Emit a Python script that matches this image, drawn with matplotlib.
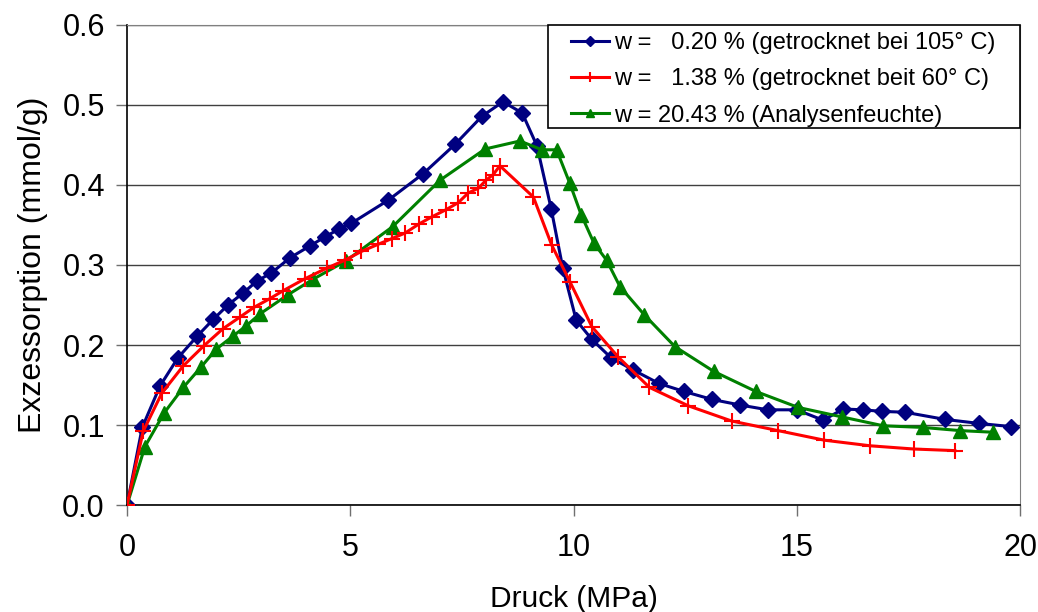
import matplotlib
matplotlib.use("Agg")
import matplotlib.pyplot as plt
from matplotlib.patches import Rectangle

plt.rcParams["font.family"] = ["Liberation Sans", "DejaVu Sans"]

# w = 0.20 % (dried at 105 C)
p_dry105 = [0, 0.34, 0.74, 1.14, 1.57, 1.93, 2.26, 2.6, 2.91, 3.23, 3.65, 4.1, 4.43,
            4.75, 5.02, 5.85, 6.63, 7.35, 7.95, 8.42, 8.85, 9.18, 9.5, 9.76, 10.06,
            10.41, 10.84, 11.33, 11.91, 12.47, 13.1, 13.73, 14.35, 15.0, 15.59,
            16.04, 16.48, 16.91, 17.42, 18.32, 19.08, 19.8]
ex_dry105 = [0, 0.097, 0.149, 0.184, 0.211, 0.232, 0.25, 0.265, 0.28, 0.29, 0.309,
             0.324, 0.335, 0.345, 0.352, 0.381, 0.414, 0.451, 0.486, 0.504, 0.49,
             0.449, 0.37, 0.296, 0.231, 0.207, 0.184, 0.169, 0.152, 0.142, 0.132,
             0.125, 0.119, 0.119, 0.106, 0.12, 0.119, 0.117, 0.116, 0.107, 0.102,
             0.098]

# w = 1.38 % (dried at 60 C)
p_dry60 = [0, 0.36, 0.78, 1.26, 1.72, 2.14, 2.53, 2.84, 3.2, 3.5, 3.99, 4.47, 4.88,
           5.25, 5.63, 5.93, 6.23, 6.53, 6.82, 7.14, 7.42, 7.64, 7.87, 8.04, 8.2,
           8.35, 9.1, 9.51, 9.92, 10.41, 11.0, 11.7, 12.57, 13.54, 14.58, 15.62,
           16.65, 17.62, 18.54]
ex_dry60 = [0, 0.092, 0.14, 0.174, 0.199, 0.22, 0.235, 0.247, 0.258, 0.268, 0.283,
            0.296, 0.306, 0.317, 0.326, 0.333, 0.34, 0.351, 0.36, 0.369, 0.378,
            0.39, 0.396, 0.406, 0.413, 0.424, 0.385, 0.325, 0.279, 0.223, 0.185,
            0.147, 0.124, 0.105, 0.093, 0.081, 0.074, 0.07, 0.068]

# w = 20.43 % (as analysed)
p_wet = [0, 0.4, 0.83, 1.26, 1.65, 2.0, 2.37, 2.67, 2.98, 3.61, 4.16, 4.9, 5.95,
         7.01, 8.02, 8.8, 9.29, 9.62, 9.91, 10.17, 10.46, 10.74, 11.04, 11.58,
         12.27, 13.14, 14.08, 15.03, 16.02, 16.94, 17.82, 18.66, 19.39]
ex_wet = [0, 0.073, 0.115, 0.147, 0.172, 0.195, 0.211, 0.224, 0.239, 0.263, 0.282,
          0.305, 0.348, 0.406, 0.445, 0.455, 0.444, 0.444, 0.403, 0.363, 0.327,
          0.306, 0.273, 0.238, 0.198, 0.167, 0.142, 0.122, 0.11, 0.099, 0.097,
          0.093, 0.091]

labels = ["w =   0.20 % (getrocknet bei 105° C)",
          "w =   1.38 % (getrocknet beit 60° C)",
          "w = 20.43 % (Analysenfeuchte)"]

fig = plt.figure(figsize=(10.38, 6.12), dpi=100)
ax = fig.add_axes([0.1224, 0.1748, 0.8603, 0.7844])

ax.plot(p_dry105, ex_dry105, color="#000080", lw=2.2, marker="D", ms=8.5,
        label=labels[0], zorder=3)
ax.plot(p_dry60, ex_dry60, color="#ff0000", lw=2.2, marker="+", ms=11, mew=1.5,
        label=labels[1], zorder=4)
ax.plot(p_wet, ex_wet, color="#008000", lw=2.2, marker="^", ms=10,
        label=labels[2], zorder=3)

ax.set_xlim(0, 20)
ax.set_ylim(0, 0.6)
ax.set_xticks([0, 5, 10, 15, 20])
ax.set_yticks([0, 0.1, 0.2, 0.3, 0.4, 0.5, 0.6])
ax.set_yticklabels(["0.0", "0.1", "0.2", "0.3", "0.4", "0.5", "0.6"])
ax.yaxis.grid(True, color="#404040", lw=1)
ax.set_axisbelow(True)

for side in ["top", "right"]:
    ax.spines[side].set_color("#808080")
for side in ["left", "bottom"]:
    ax.spines[side].set_color("black")
    ax.spines[side].set_linewidth(1.2)

ax.tick_params(labelsize=22, length=8, width=1, pad=8, color="#707070")
ax.tick_params(axis="x", pad=12)

ax.set_xlabel("Druck (MPa)", fontsize=21.5, labelpad=16)
ax.set_ylabel("Exzessorption (mmol/g)", fontsize=23, labelpad=10)

# legend box
ax.add_patch(Rectangle((0.4714, 0.7854), 0.5286, 0.2146, transform=ax.transAxes,
                       facecolor="white", edgecolor="black", lw=1.2, zorder=5,
                       clip_on=False))
leg = ax.legend(loc="upper right", bbox_to_anchor=(0.972, 0.985), fontsize=17,
                frameon=False, handlelength=1.6, borderaxespad=0, borderpad=0,
                labelspacing=0.6, handletextpad=0.2, markerscale=0.6)
leg.set_zorder(6)

fig.savefig("out.png", dpi=100)
